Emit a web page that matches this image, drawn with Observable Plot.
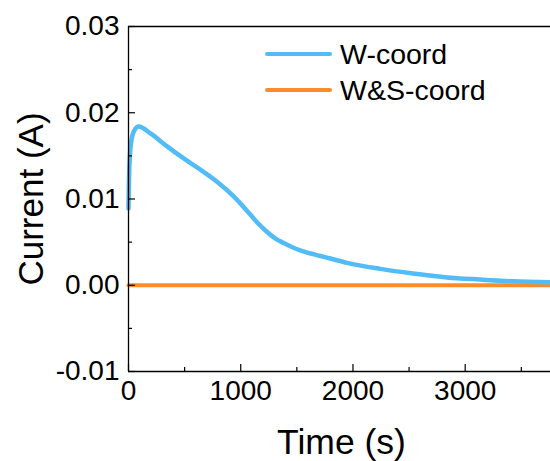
<!DOCTYPE html>
<html>
<head>
<meta charset="utf-8">
<script src="https://cdn.jsdelivr.net/npm/d3@7"></script>
<script src="https://cdn.jsdelivr.net/npm/@observablehq/plot@0.6"></script>
<style>
  html, body { margin: 0; padding: 0; background: #fff; }
  #wrap { position: relative; width: 550px; height: 461px; font-family: Arial, "Liberation Sans", sans-serif; }
  .legend { position: absolute; left: 265px; top: 36px; font-size: 28.5px; line-height: 36px; color: #000; }
  .legend .row { display: flex; align-items: center; height: 36px; white-space: nowrap; }
  .legend .sw { display: inline-block; width: 67px; height: 4px; border-radius: 2px; margin-right: 8px; }
</style>
</head>
<body>
<div id="wrap"></div>
<script>
// Data
const seriesNames = ["W-coord", "W&S-coord"];
const seriesColors = ["#52bcf9", "#fa8c2c"];

const wTime = [0, 5, 12, 25, 50, 92, 196, 344, 492, 641, 789, 937, 1085, 1160, 1233, 1310, 1382, 1460, 1530, 1646, 1800, 1948, 2242, 2536, 2838, 3132, 3425, 3760];
const wCurrent = [0.0089, 0.0125, 0.0150, 0.0167, 0.0179, 0.0184, 0.0176, 0.0161, 0.0147, 0.0134, 0.0120, 0.0103, 0.0082, 0.0071, 0.0062, 0.0054, 0.0049, 0.0044, 0.00405, 0.0036, 0.0031, 0.0026, 0.0019, 0.00136, 0.0009, 0.00066, 0.00046, 0.00034];

const wsTime = [0, 3760];
const wsCurrent = [0, 0];

const xMajorTicks = [0, 1000, 2000, 3000];
const xMinorTicks = [500, 1500, 2500, 3500];
const yMajorTicks = [-0.01, 0, 0.01, 0.02, 0.03];
const yMinorTicks = [-0.005, 0.005, 0.015, 0.025];
const xDomain = [0, 3760];
const yDomain = [-0.01, 0.03];

const wData = wTime.map((t, i) => ({t, v: wCurrent[i]}));
const wsData = wsTime.map((t, i) => ({t, v: wsCurrent[i]}));

const chart = Plot.plot({
  width: 550,
  height: 461,
  marginLeft: 128,
  marginRight: 0,
  marginTop: 26,
  marginBottom: 90,
  style: {fontFamily: "Arial, 'Liberation Sans', sans-serif", color: "#000", background: "#fff"},
  x: {domain: xDomain},
  y: {domain: yDomain},
  marks: [
    Plot.line(wsData, {x: "t", y: "v", stroke: seriesColors[1], strokeWidth: 4}),
    Plot.line(wData, {x: "t", y: "v", stroke: seriesColors[0], strokeWidth: 4.5, curve: "monotone-x"}),
    Plot.ruleX([xDomain[0]], {stroke: "#000", strokeWidth: 1.3}),
    Plot.ruleY([yDomain[0], yDomain[1]], {stroke: "#000", strokeWidth: 1.3}),
    Plot.axisX(xMajorTicks, {tickSize: -7, tickPadding: 16, fontSize: 28, label: null, tickFormat: d => String(d), strokeWidth: 1.2}),
    Plot.axisX(xMinorTicks, {tickSize: -4, text: null, label: null, strokeWidth: 1.2}),
    Plot.axisY(yMajorTicks, {tickSize: -7, tickPadding: 16, fontSize: 28, label: null, tickFormat: d => d.toFixed(2), strokeWidth: 1.2}),
    Plot.axisY(yMinorTicks, {tickSize: -4, text: null, label: null, strokeWidth: 1.2}),
    Plot.text(["Current (A)"], {frameAnchor: "left", rotate: -90, textAnchor: "middle", lineAnchor: "middle", fontSize: 35, dx: -97, fill: "#000"}),
    Plot.text(["Time (s)"], {frameAnchor: "bottom", textAnchor: "middle", lineAnchor: "middle", fontSize: 35.5, dx: 2, dy: 71, fill: "#000"})
  ]
});

const wrap = document.getElementById("wrap");
wrap.appendChild(chart);

const legend = document.createElement("div");
legend.className = "legend";
seriesNames.forEach((name, i) => {
  const row = document.createElement("div");
  row.className = "row";
  const sw = document.createElement("span");
  sw.className = "sw";
  sw.style.background = seriesColors[i];
  const label = document.createElement("span");
  label.textContent = name;
  row.appendChild(sw);
  row.appendChild(label);
  legend.appendChild(row);
});
wrap.appendChild(legend);
</script>
</body>
</html>
